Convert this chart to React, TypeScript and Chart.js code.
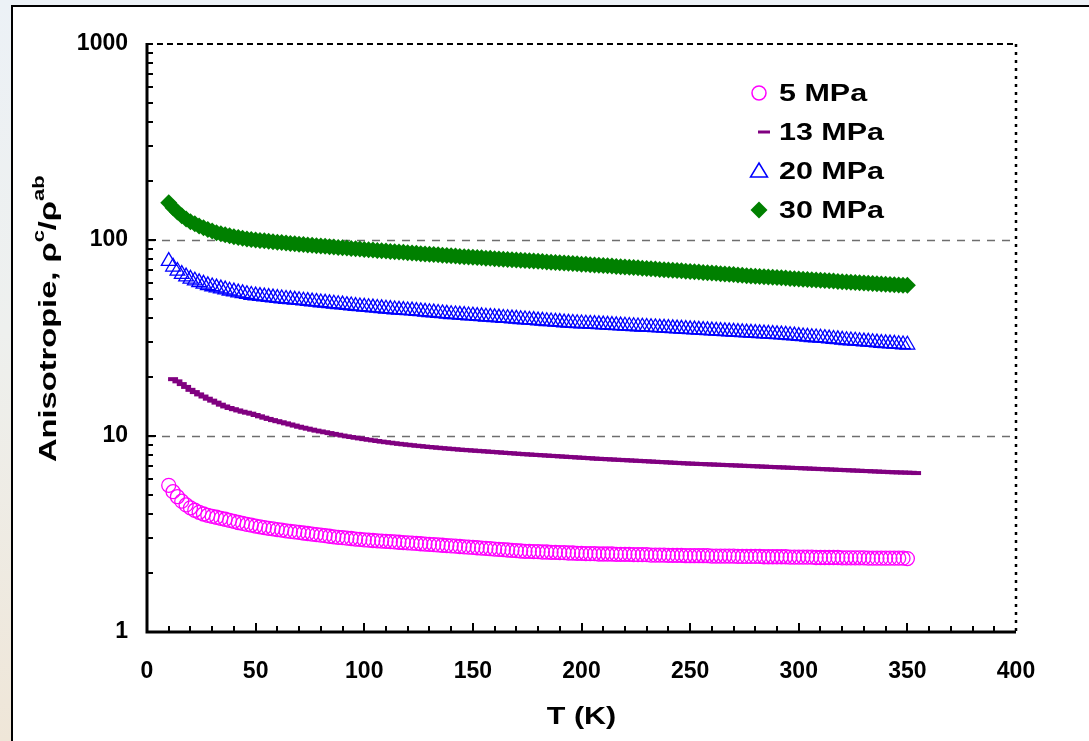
import { useEffect, useRef } from 'react';
import { Chart, registerables } from 'chart.js';

Chart.register(...registerables);

// Temperature (K)
const tempK = [
  10, 12, 14, 16, 18, 20, 22, 24, 26, 28,
  30, 32, 34, 36, 38, 40, 42, 44, 46, 48,
  50, 52, 54, 56, 58, 60, 62, 64, 66, 68,
  70, 72, 74, 76, 78, 80, 82, 84, 86, 88,
  90, 92, 94, 96, 98, 100, 102, 104, 106, 108,
  110, 112, 114, 116, 118, 120, 122, 124, 126, 128,
  130, 132, 134, 136, 138, 140, 142, 144, 146, 148,
  150, 152, 154, 156, 158, 160, 162, 164, 166, 168,
  170, 172, 174, 176, 178, 180, 182, 184, 186, 188,
  190, 192, 194, 196, 198, 200, 202, 204, 206, 208,
  210, 212, 214, 216, 218, 220, 222, 224, 226, 228,
  230, 232, 234, 236, 238, 240, 242, 244, 246, 248,
  250, 252, 254, 256, 258, 260, 262, 264, 266, 268,
  270, 272, 274, 276, 278, 280, 282, 284, 286, 288,
  290, 292, 294, 296, 298, 300, 302, 304, 306, 308,
  310, 312, 314, 316, 318, 320, 322, 324, 326, 328,
  330, 332, 334, 336, 338, 340, 342, 344, 346, 348,
  350,
];

const aniso5MPa = [
  5.6, 5.2, 4.9, 4.65, 4.45, 4.3, 4.18, 4.08, 4.0, 3.94,
  3.89, 3.85, 3.8, 3.76, 3.71, 3.67, 3.62, 3.58, 3.54, 3.51,
  3.47, 3.44, 3.41, 3.38, 3.36, 3.33, 3.31, 3.28, 3.26, 3.24,
  3.22, 3.2, 3.18, 3.16, 3.14, 3.12, 3.1, 3.08, 3.06, 3.04,
  3.03, 3.01, 3.0, 2.98, 2.97, 2.95, 2.94, 2.93, 2.92, 2.91,
  2.9, 2.89, 2.88, 2.87, 2.86, 2.85, 2.84, 2.83, 2.82, 2.81,
  2.8, 2.79, 2.78, 2.77, 2.76, 2.75, 2.74, 2.73, 2.72, 2.71,
  2.7, 2.69, 2.68, 2.67, 2.66, 2.65, 2.64, 2.63, 2.62, 2.61,
  2.6, 2.59, 2.58, 2.58, 2.57, 2.57, 2.56, 2.56, 2.55, 2.55,
  2.54, 2.54, 2.53, 2.53, 2.52, 2.52, 2.51, 2.51, 2.51, 2.5,
  2.5, 2.5, 2.5, 2.49, 2.49, 2.49, 2.49, 2.48, 2.48, 2.48,
  2.48, 2.47, 2.47, 2.47, 2.47, 2.46, 2.46, 2.46, 2.46, 2.45,
  2.45, 2.45, 2.45, 2.45, 2.45, 2.44, 2.44, 2.44, 2.44, 2.44,
  2.44, 2.43, 2.43, 2.43, 2.43, 2.43, 2.43, 2.42, 2.42, 2.42,
  2.42, 2.42, 2.42, 2.41, 2.41, 2.41, 2.41, 2.41, 2.41, 2.4,
  2.4, 2.4, 2.4, 2.4, 2.4, 2.39, 2.39, 2.39, 2.39, 2.39,
  2.39, 2.38, 2.38, 2.38, 2.38, 2.38, 2.38, 2.38, 2.38, 2.38,
  2.37,
];

const aniso13MPa = [
  null, 19.5, 19.0, 18.4, 17.8, 17.2, 16.75, 16.3, 15.9, 15.5,
  15.15, 14.8, 14.45, 14.15, 13.9, 13.7, 13.5, 13.3, 13.15, 13.0,
  12.8, 12.6, 12.4, 12.22, 12.05, 11.9, 11.75, 11.6, 11.45, 11.3,
  11.15, 11.02, 10.9, 10.77, 10.65, 10.55, 10.45, 10.35, 10.25, 10.15,
  10.05, 9.96, 9.88, 9.8, 9.72, 9.64, 9.57, 9.5, 9.43, 9.36,
  9.3, 9.24, 9.18, 9.12, 9.07, 9.02, 8.97, 8.92, 8.88, 8.83,
  8.79, 8.75, 8.71, 8.67, 8.63, 8.6, 8.56, 8.52, 8.49, 8.46,
  8.43, 8.4, 8.37, 8.34, 8.31, 8.28, 8.25, 8.22, 8.19, 8.16,
  8.13, 8.1, 8.07, 8.05, 8.02, 8.0, 7.97, 7.95, 7.92, 7.9,
  7.87, 7.85, 7.82, 7.8, 7.77, 7.75, 7.72, 7.7, 7.67, 7.65,
  7.63, 7.61, 7.59, 7.57, 7.55, 7.53, 7.51, 7.49, 7.47, 7.45,
  7.43, 7.41, 7.39, 7.37, 7.35, 7.33, 7.31, 7.29, 7.27, 7.25,
  7.23, 7.22, 7.2, 7.19, 7.17, 7.16, 7.14, 7.13, 7.11, 7.1,
  7.08, 7.07, 7.05, 7.04, 7.02, 7.01, 6.99, 6.98, 6.96, 6.95,
  6.93, 6.92, 6.9, 6.89, 6.87, 6.86, 6.84, 6.83, 6.81, 6.8,
  6.78, 6.77, 6.75, 6.74, 6.72, 6.71, 6.69, 6.68, 6.66, 6.65,
  6.63, 6.62, 6.6, 6.59, 6.57, 6.56, 6.54, 6.53, 6.52, 6.51,
  6.5,
];
const tail13T = [352, 354];
const tail13V = [6.49, 6.47];

const aniso20MPa = [
  78, 73, 69.5, 67, 65, 63.3, 62.0, 60.8, 59.7, 58.7,
  57.9, 57.2, 56.5, 55.8, 55.1, 54.5, 53.9, 53.4, 52.9, 52.4,
  52.0, 51.7, 51.4, 51.1, 50.8, 50.5, 50.3, 50.0, 49.8, 49.5,
  49.3, 49.0, 48.8, 48.5, 48.3, 48.0, 47.8, 47.5, 47.3, 47.0,
  46.8, 46.5, 46.3, 46.0, 45.8, 45.6, 45.4, 45.2, 45.0, 44.8,
  44.6, 44.4, 44.2, 44.0, 43.9, 43.7, 43.6, 43.4, 43.2, 43.0,
  42.8, 42.6, 42.4, 42.2, 42.0, 41.8, 41.7, 41.5, 41.4, 41.2,
  41.1, 40.9, 40.8, 40.6, 40.5, 40.3, 40.2, 40.0, 39.9, 39.7,
  39.6, 39.4, 39.3, 39.1, 39.0, 38.8, 38.7, 38.5, 38.4, 38.2,
  38.1, 37.9, 37.8, 37.7, 37.6, 37.5, 37.4, 37.3, 37.2, 37.1,
  37.0, 36.9, 36.8, 36.7, 36.6, 36.5, 36.4, 36.3, 36.2, 36.1,
  36.0, 35.9, 35.8, 35.7, 35.6, 35.5, 35.4, 35.3, 35.2, 35.1,
  35.0, 34.9, 34.8, 34.7, 34.6, 34.5, 34.4, 34.3, 34.2, 34.1,
  34.0, 33.9, 33.8, 33.7, 33.6, 33.5, 33.4, 33.3, 33.2, 33.1,
  33.0, 32.9, 32.8, 32.65, 32.5, 32.35, 32.2, 32.05, 31.9, 31.8,
  31.7, 31.55, 31.4, 31.25, 31.1, 30.95, 30.8, 30.7, 30.6, 30.45,
  30.3, 30.2, 30.1, 29.95, 29.8, 29.7, 29.6, 29.5, 29.4, 29.3,
  29.2,
];

const aniso30MPa = [
  155, 146, 139, 133, 128, 124, 121, 118, 115.5, 113,
  111, 109, 107.6, 106.3, 105, 104, 103, 102, 101.3, 100.6,
  100, 99.5, 99.0, 98.5, 98.0, 97.5, 97.0, 96.5, 96.1, 95.6,
  95.2, 94.8, 94.4, 94.0, 93.6, 93.2, 92.8, 92.4, 92.0, 91.6,
  91.3, 90.9, 90.6, 90.2, 89.9, 89.5, 89.2, 88.8, 88.5, 88.1,
  87.8, 87.4, 87.1, 86.8, 86.5, 86.1, 85.8, 85.5, 85.2, 84.9,
  84.6, 84.3, 84.0, 83.7, 83.4, 83.1, 82.8, 82.5, 82.2, 81.9,
  81.6, 81.3, 81.1, 80.8, 80.6, 80.3, 80.1, 79.8, 79.6, 79.3,
  79.1, 78.8, 78.6, 78.3, 78.1, 77.8, 77.6, 77.3, 77.1, 76.8,
  76.6, 76.3, 76.1, 75.8, 75.6, 75.3, 75.1, 74.8, 74.6, 74.3,
  74.1, 73.8, 73.6, 73.3, 73.1, 72.8, 72.6, 72.3, 72.1, 71.8,
  71.6, 71.3, 71.1, 70.8, 70.6, 70.3, 70.1, 69.8, 69.6, 69.3,
  69.1, 68.8, 68.6, 68.3, 68.1, 67.8, 67.6, 67.3, 67.1, 66.8,
  66.6, 66.3, 66.1, 65.8, 65.6, 65.3, 65.1, 64.9, 64.7, 64.5,
  64.3, 64.1, 63.9, 63.7, 63.5, 63.3, 63.1, 62.9, 62.7, 62.5,
  62.3, 62.1, 61.9, 61.7, 61.5, 61.3, 61.1, 60.9, 60.7, 60.5,
  60.3, 60.1, 59.9, 59.75, 59.6, 59.45, 59.3, 59.15, 59.0, 58.85,
  58.7,
];

const seriesLabels = ['5 MPa', '13 MPa', '20 MPa', '30 MPa'];
const seriesColors = ['#ff00ff', '#800080', '#0000ff', '#008000'];
const yTickValues = [1, 10, 100, 1000];
const yGridValues = [10, 100];
const xTitle = 'T (K)';

const FONT = '"Liberation Sans", Arial, Helvetica, sans-serif';
const STRETCH = 1.27;

function toPoints(xs: number[], ys: (number | null)[]) {
  const out: { x: number; y: number }[] = [];
  xs.forEach((x, i) => {
    const v = ys[i];
    if (v !== null && v !== undefined) out.push({ x, y: v });
  });
  return out;
}

const framePlugin = {
  id: 'frame',
  beforeDatasetsDraw(chart: any) {
    const { ctx, chartArea: a, scales } = chart;
    const y = scales.y;
    ctx.save();
    ctx.strokeStyle = '#6e6e6e';
    ctx.lineWidth = 1.5;
    ctx.setLineDash([8, 7]);
    for (const v of yGridValues) {
      const py = Math.round(y.getPixelForValue(v)) + 0.5;
      ctx.beginPath();
      ctx.moveTo(a.left, py);
      ctx.lineTo(a.right, py);
      ctx.stroke();
    }
    ctx.restore();
  },
  afterDatasetsDraw(chart: any) {
    const { ctx, chartArea: a, scales } = chart;
    const x = scales.x;
    const y = scales.y;
    ctx.save();
    ctx.strokeStyle = '#000';
    // top border dashed
    ctx.lineWidth = 2;
    ctx.setLineDash([6, 4]);
    ctx.beginPath();
    ctx.moveTo(a.left, a.top);
    ctx.lineTo(a.right, a.top);
    ctx.stroke();
    // right border dotted
    ctx.lineWidth = 2.5;
    ctx.setLineDash([3, 5]);
    ctx.beginPath();
    ctx.moveTo(a.right, a.top);
    ctx.lineTo(a.right, a.bottom);
    ctx.stroke();
    ctx.setLineDash([]);
    // left and bottom axes
    ctx.lineWidth = 3;
    ctx.beginPath();
    ctx.moveTo(a.left, a.top - 1);
    ctx.lineTo(a.left, a.bottom);
    ctx.lineTo(a.right, a.bottom);
    ctx.stroke();
    // y ticks (inside)
    ctx.lineWidth = 2;
    for (const d of [1, 10, 100]) {
      for (let m = 1; m <= 10; m++) {
        const v = d * m;
        if (v === 1 || v === 1000) continue;
        const py = Math.round(y.getPixelForValue(v));
        const len = m === 1 || m === 10 ? 9 : 6;
        ctx.beginPath();
        ctx.moveTo(a.left, py);
        ctx.lineTo(a.left + len, py);
        ctx.stroke();
      }
    }
    // x ticks (inside)
    for (let t = 10; t < 400; t += 10) {
      const px = Math.round(x.getPixelForValue(t));
      const len = t % 50 === 0 ? 9 : 6;
      ctx.beginPath();
      ctx.moveTo(px, a.bottom);
      ctx.lineTo(px, a.bottom - len);
      ctx.stroke();
    }

    // legend
    const lx = 759;
    const ly0 = 93;
    const dy = 39;
    ctx.fillStyle = '#000';
    ctx.font = `bold 24px ${FONT}`;
    ctx.textBaseline = 'middle';
    ctx.textAlign = 'left';
    seriesLabels.forEach((label, i) => {
      const cy = ly0 + dy * i;
      ctx.save();
      ctx.strokeStyle = seriesColors[i];
      ctx.fillStyle = seriesColors[i];
      ctx.beginPath();
      if (i === 0) {
        ctx.lineWidth = 1.5;
        ctx.arc(lx, cy, 7, 0, Math.PI * 2);
        ctx.stroke();
      } else if (i === 1) {
        ctx.lineWidth = 3;
        ctx.moveTo(lx - 1, cy);
        ctx.lineTo(lx + 11, cy);
        ctx.stroke();
      } else if (i === 2) {
        ctx.lineWidth = 1.5;
        ctx.moveTo(lx, cy - 8);
        ctx.lineTo(lx + 8.5, cy + 6);
        ctx.lineTo(lx - 8.5, cy + 6);
        ctx.closePath();
        ctx.stroke();
      } else {
        ctx.moveTo(lx, cy - 8.5);
        ctx.lineTo(lx + 8.5, cy);
        ctx.lineTo(lx, cy + 8.5);
        ctx.lineTo(lx - 8.5, cy);
        ctx.closePath();
        ctx.fill();
      }
      ctx.restore();
      ctx.save();
      ctx.translate(779, cy + 1);
      ctx.scale(STRETCH, 1);
      ctx.fillStyle = '#000';
      ctx.fillText(label, 0, 0);
      ctx.restore();
    });

    // x title
    ctx.save();
    ctx.font = `bold 24px ${FONT}`;
    ctx.textAlign = 'center';
    ctx.textBaseline = 'middle';
    ctx.translate((a.left + a.right) / 2, 717);
    ctx.scale(STRETCH, 1);
    ctx.fillStyle = '#000';
    ctx.fillText(xTitle, 0, 0);
    ctx.restore();

    // y title with superscripts
    ctx.save();
    ctx.translate(56, 462);
    ctx.rotate(-Math.PI / 2);
    ctx.scale(1.36, 1);
    ctx.fillStyle = '#000';
    ctx.textAlign = 'left';
    ctx.textBaseline = 'alphabetic';
    const parts: [string, boolean][] = [
      ['Anisotropie, \u03c1', false],
      ['c', true],
      ['/\u03c1', false],
      ['ab', true],
    ];
    let cx = 0;
    for (const [txt, sup] of parts) {
      ctx.font = sup ? `bold 16px ${FONT}` : `bold 24px ${FONT}`;
      ctx.fillText(txt, cx, sup ? -12 : 0);
      cx += ctx.measureText(txt).width;
    }
    ctx.restore();

    ctx.restore();
  },
};

export default function App() {
  const canvasRef = useRef<HTMLCanvasElement | null>(null);

  useEffect(() => {
    document.body.style.margin = '0';
    const canvas = canvasRef.current;
    if (!canvas) return;
    const tickFont = { family: FONT, size: 23, weight: 'bold' as const };
    const chart = new Chart(canvas, {
      type: 'scatter',
      data: {
        datasets: [
          {
            label: seriesLabels[0],
            data: toPoints(tempK, aniso5MPa),
            pointStyle: 'circle',
            pointRadius: 7,
            borderColor: seriesColors[0],
            backgroundColor: 'rgba(0,0,0,0)',
            pointBorderWidth: 1.3,
            showLine: false,
          },
          {
            label: seriesLabels[1],
            data: toPoints(tempK, aniso13MPa).concat(toPoints(tail13T, tail13V)),
            pointStyle: 'line',
            pointRadius: 5,
            borderColor: seriesColors[1],
            backgroundColor: seriesColors[1],
            pointBorderWidth: 4,
            showLine: false,
          },
          {
            label: seriesLabels[2],
            data: toPoints(tempK, aniso20MPa),
            pointStyle: 'triangle',
            pointRadius: 8.5,
            borderColor: seriesColors[2],
            backgroundColor: 'rgba(0,0,0,0)',
            pointBorderWidth: 1.3,
            showLine: false,
          },
          {
            label: seriesLabels[3],
            data: toPoints(tempK, aniso30MPa),
            pointStyle: 'rectRot',
            pointRadius: 8.5,
            borderColor: seriesColors[3],
            backgroundColor: seriesColors[3],
            pointBorderWidth: 0,
            showLine: false,
          },
        ],
      },
      options: {
        responsive: false,
        animation: false,
        events: [],
        layout: { padding: { top: 44, right: 73, left: 0, bottom: 0 } },
        plugins: {
          legend: { display: false },
          tooltip: { enabled: false },
          title: { display: false },
        },
        scales: {
          x: {
            type: 'linear',
            min: 0,
            max: 400,
            ticks: {
              stepSize: 50,
              font: tickFont,
              color: '#000',
              padding: 26,
              maxRotation: 0,
              autoSkip: false,
            },
            grid: { display: false, drawTicks: false },
            border: { display: false },
            afterFit: (s: any) => {
              s.height = 109;
            },
          },
          y: {
            type: 'logarithmic',
            min: 1,
            max: 1000,
            ticks: {
              font: tickFont,
              color: '#000',
              padding: 19,
              callback: (v: any) => String(v),
            },
            afterBuildTicks: (s: any) => {
              s.ticks = yTickValues.map((v) => ({ value: v }));
            },
            grid: { display: false, drawTicks: false },
            border: { display: false },
            afterFit: (s: any) => {
              s.width = 147;
            },
          },
        },
      } as any,
      plugins: [framePlugin],
    });
    return () => chart.destroy();
  }, []);

  return (
    <div
      style={{
        position: 'fixed',
        left: 0,
        top: 0,
        width: 1089,
        height: 741,
        overflow: 'hidden',
        background: 'linear-gradient(180deg, #ecf1f6 0%, #eef0ee 45%, #efe6d8 100%)',
      }}
    >
      <div
        style={{
          position: 'absolute',
          left: 11,
          top: 5,
          width: 1100,
          height: 760,
          background: '#fff',
          border: '2px solid #000',
        }}
      />
      <canvas
        ref={canvasRef}
        width={1089}
        height={741}
        style={{ position: 'absolute', left: 0, top: 0, display: 'block' }}
      />
    </div>
  );
}
